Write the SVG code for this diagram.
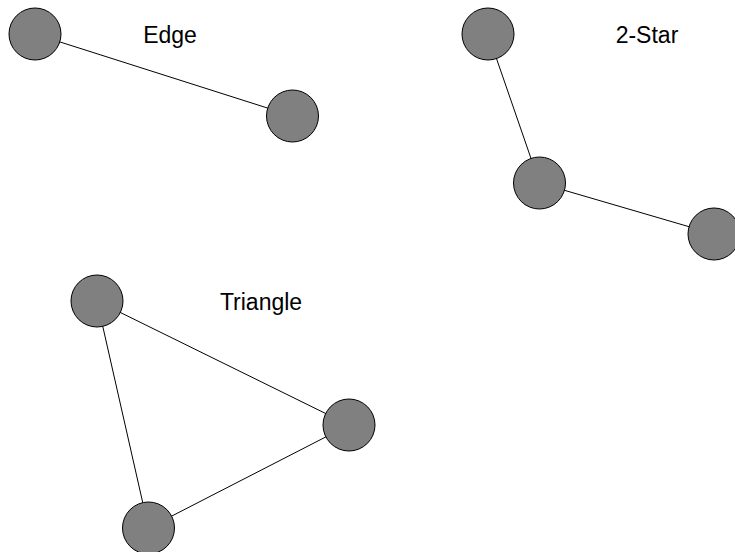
<svg xmlns="http://www.w3.org/2000/svg" width="735" height="552" viewBox="0 0 735 552">
<style>
.n{fill:#808080;stroke:#000;stroke-width:1}
.e{stroke:#000;stroke-width:1;fill:none}
.t{font-family:"Liberation Sans",Arial,sans-serif;font-size:23px;fill:#000;text-anchor:middle}
</style>
<rect width="735" height="552" fill="#fff"/>
<g id="connectors">
<line class="e" x1="35" y1="34" x2="292.5" y2="116"/>
<line class="e" x1="488" y1="34" x2="539.5" y2="183"/>
<line class="e" x1="539.5" y1="183" x2="714" y2="234"/>
<line class="e" x1="97" y1="301" x2="349" y2="425"/>
<line class="e" x1="97" y1="301" x2="148.5" y2="528"/>
<line class="e" x1="349" y1="425" x2="148.5" y2="528"/>
</g>
<g id="edge-a"><circle class="n" cx="35" cy="34" r="26"/></g>
<g id="edge-b"><circle class="n" cx="292.5" cy="116" r="26"/></g>
<g id="star-a"><circle class="n" cx="488" cy="34" r="26"/></g>
<g id="star-b"><circle class="n" cx="539.5" cy="183" r="26"/></g>
<g id="star-c"><circle class="n" cx="714" cy="234" r="26"/></g>
<g id="tri-a"><circle class="n" cx="97" cy="301" r="26"/></g>
<g id="tri-b"><circle class="n" cx="349" cy="425" r="26"/></g>
<g id="tri-c"><circle class="n" cx="148.5" cy="528" r="26"/></g>
<g id="labels">
<text class="t" x="170" y="43">Edge</text>
<text class="t" x="647" y="43">2-Star</text>
<text class="t" x="261" y="310">Triangle</text>
</g>
</svg>
